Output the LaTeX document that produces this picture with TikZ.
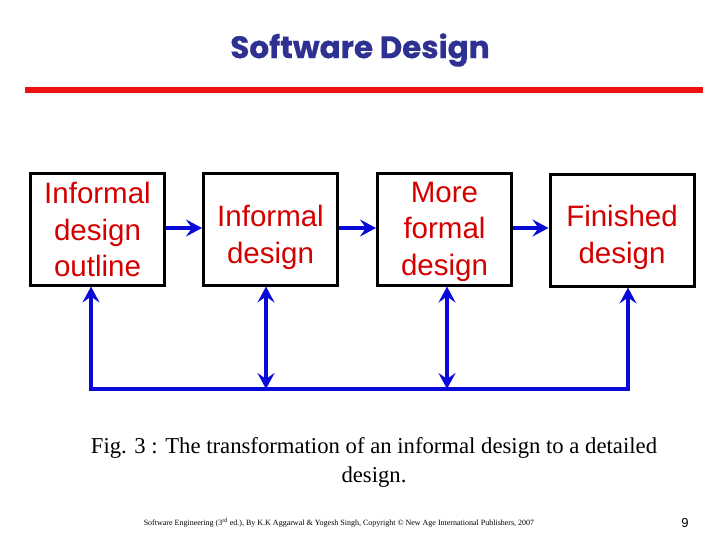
\documentclass[tikz,border=0pt]{standalone}
\usepackage{fontspec}
\setmainfont{Liberation Serif}
\newfontfamily\boxfont{Liberation Sans}
\newfontfamily\titlefont{Poppins}[BoldFeatures={FakeBold=0.6}]
\usetikzlibrary{arrows.meta}
\definecolor{titleblue}{HTML}{2E3192}
\definecolor{boxred}{HTML}{D40000}
\definecolor{linkblue}{HTML}{0A0AD8}
\definecolor{rulered}{HTML}{EE1111}
\tikzset{
  stagebox/.style={draw=black, line width=3pt, minimum width=134pt, minimum height=111pt,
    inner sep=0pt, text width=134pt, align=center, text=boxred,
    font=\boxfont\fontsize{29.5}{36.5}\selectfont},
  boxlabel/.style={inner sep=0pt, text=boxred, align=center,
    font=\boxfont\fontsize{29.5}{36.5}\selectfont},
  link/.style={draw=linkblue, line width=4pt},
  tip/.style={-{Stealth[length=16pt,width=17pt,inset=6pt]}},
  dtip/.style={{Stealth[length=16pt,width=17pt,inset=6pt]}-{Stealth[length=16pt,width=17pt,inset=6pt]}}
}
\begin{document}
\begin{tikzpicture}[x=1pt,y=-1pt]
\useasboundingbox (0,0) rectangle (720,540);
\node[text=titleblue, font=\titlefont\bfseries\fontsize{31}{34}\selectfont] (title) at (360,50) {Software Design};
\draw[rulered, line width=6pt] (25,90) -- (703,90);

\node[stagebox] (b1) at (97.5,229.5) {Informal\\design\\outline};
\node[stagebox, label={[boxlabel, yshift=-8pt]center:{Informal\\design}}] (b2) at (270.5,229.5) {};
\node[stagebox, label={[boxlabel, yshift=-2pt]center:{More\\formal\\design}}] (b3) at (444.5,229.5) {};
\node[stagebox, minimum width=144pt, text width=144pt, label={[boxlabel, yshift=-7pt]center:{Finished\\design}}] (b4) at (622,230.5) {};

\draw[link,tip] (b1.east |- 0,228) -- (b2.west |- 0,228);
\draw[link,tip] (b2.east |- 0,228) -- (b3.west |- 0,228);
\draw[link,tip] (b3.east |- 0,228) -- (b4.west |- 0,228);

\coordinate (c1) at (91,389);
\coordinate (c2) at (266,389);
\coordinate (c3) at (447,389);
\coordinate (c4) at (628,389);
\draw[link, line cap=rect] (c1) -- (c4);
\draw[link,tip] (c1) -- (c1 |- b1.south);
\draw[link,dtip] (c2) -- (c2 |- b2.south);
\draw[link,dtip] (c3) -- (c3 |- b3.south);
\draw[link,tip] (c4) -- (c4 |- b4.south);

\node[font=\fontsize{22.7}{29}\selectfont, align=center] (caption) at (374,462)
  {Fig. 3 : The transformation of an informal design to a detailed\\design.};
\node[font=\fontsize{8}{9}\selectfont] (footer) at (339,523)
  {Software Engineering (3\textsuperscript{rd} ed.), By K.K Aggarwal \& Yogesh Singh, Copyright \copyright{} New Age International Publishers, 2007};
\node[font=\boxfont\fontsize{13}{15}\selectfont] (page) at (685,523) {9};
\end{tikzpicture}
\end{document}
